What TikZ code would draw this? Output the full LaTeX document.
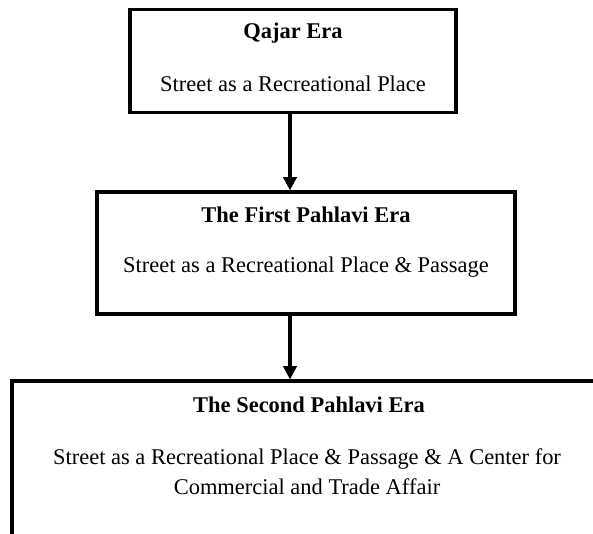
\documentclass[tikz,border=0pt]{standalone}
\usepackage{fontspec}
\setmainfont{Liberation Serif}
\usetikzlibrary{positioning,arrows.meta}
\begin{document}
\begin{tikzpicture}[x=0.75pt,y=-0.75pt,line width=2.4pt,line join=miter,>={Triangle[length=10pt,width=10pt]},
	era/.style={draw,rectangle,inner sep=0pt},
	eratitle/.style={font=\fontsize{16.85}{22.5}\selectfont\bfseries,inner sep=0pt},
	eratext/.style={font=\fontsize{16.85}{22.5}\selectfont,align=center,inner sep=0pt}]
	\useasboundingbox (0,0) rectangle (593,533);
	\clip (0,0) rectangle (593,533);
	%cadres
	\node[era,minimum width=244.5pt,minimum height=77.25pt] (qajar) at (293,61) {};
	\node[era,minimum width=313.5pt,minimum height=91.5pt] (first) at (306,253) {};
	\node[era,minimum width=442.5pt,minimum height=150pt] (second) at (307,481) {};
	%flèches
	\coordinate (axe) at (290,0);
	\draw[->] (qajar.south -| axe)--(first.north -| axe) ; %QF
	\draw[->] (first.south -| axe)--(second.north -| axe) ; %FS
	%textes
	\foreach \Nom/\Point/\Titre in {qajarT/{(293,33)}/Qajar Era,firstT/{(306,215)}/The First Pahlavi Era,secondT/{(309,405)}/The Second Pahlavi Era}
		\path \Point node[eratitle] (\Nom) {\Titre} ;
	\node[eratext] (qajarS) at (293,84) {Street as a Recreational Place} ;
	\node[eratext] (firstS) at (306,267) {Street as a Recreational Place \& Passage} ;
	\node[eratext] (secondS) at (307,472) {Street as a Recreational Place \& Passage \& A Center for\\Commercial and Trade Affair} ;
\end{tikzpicture}
\end{document}
